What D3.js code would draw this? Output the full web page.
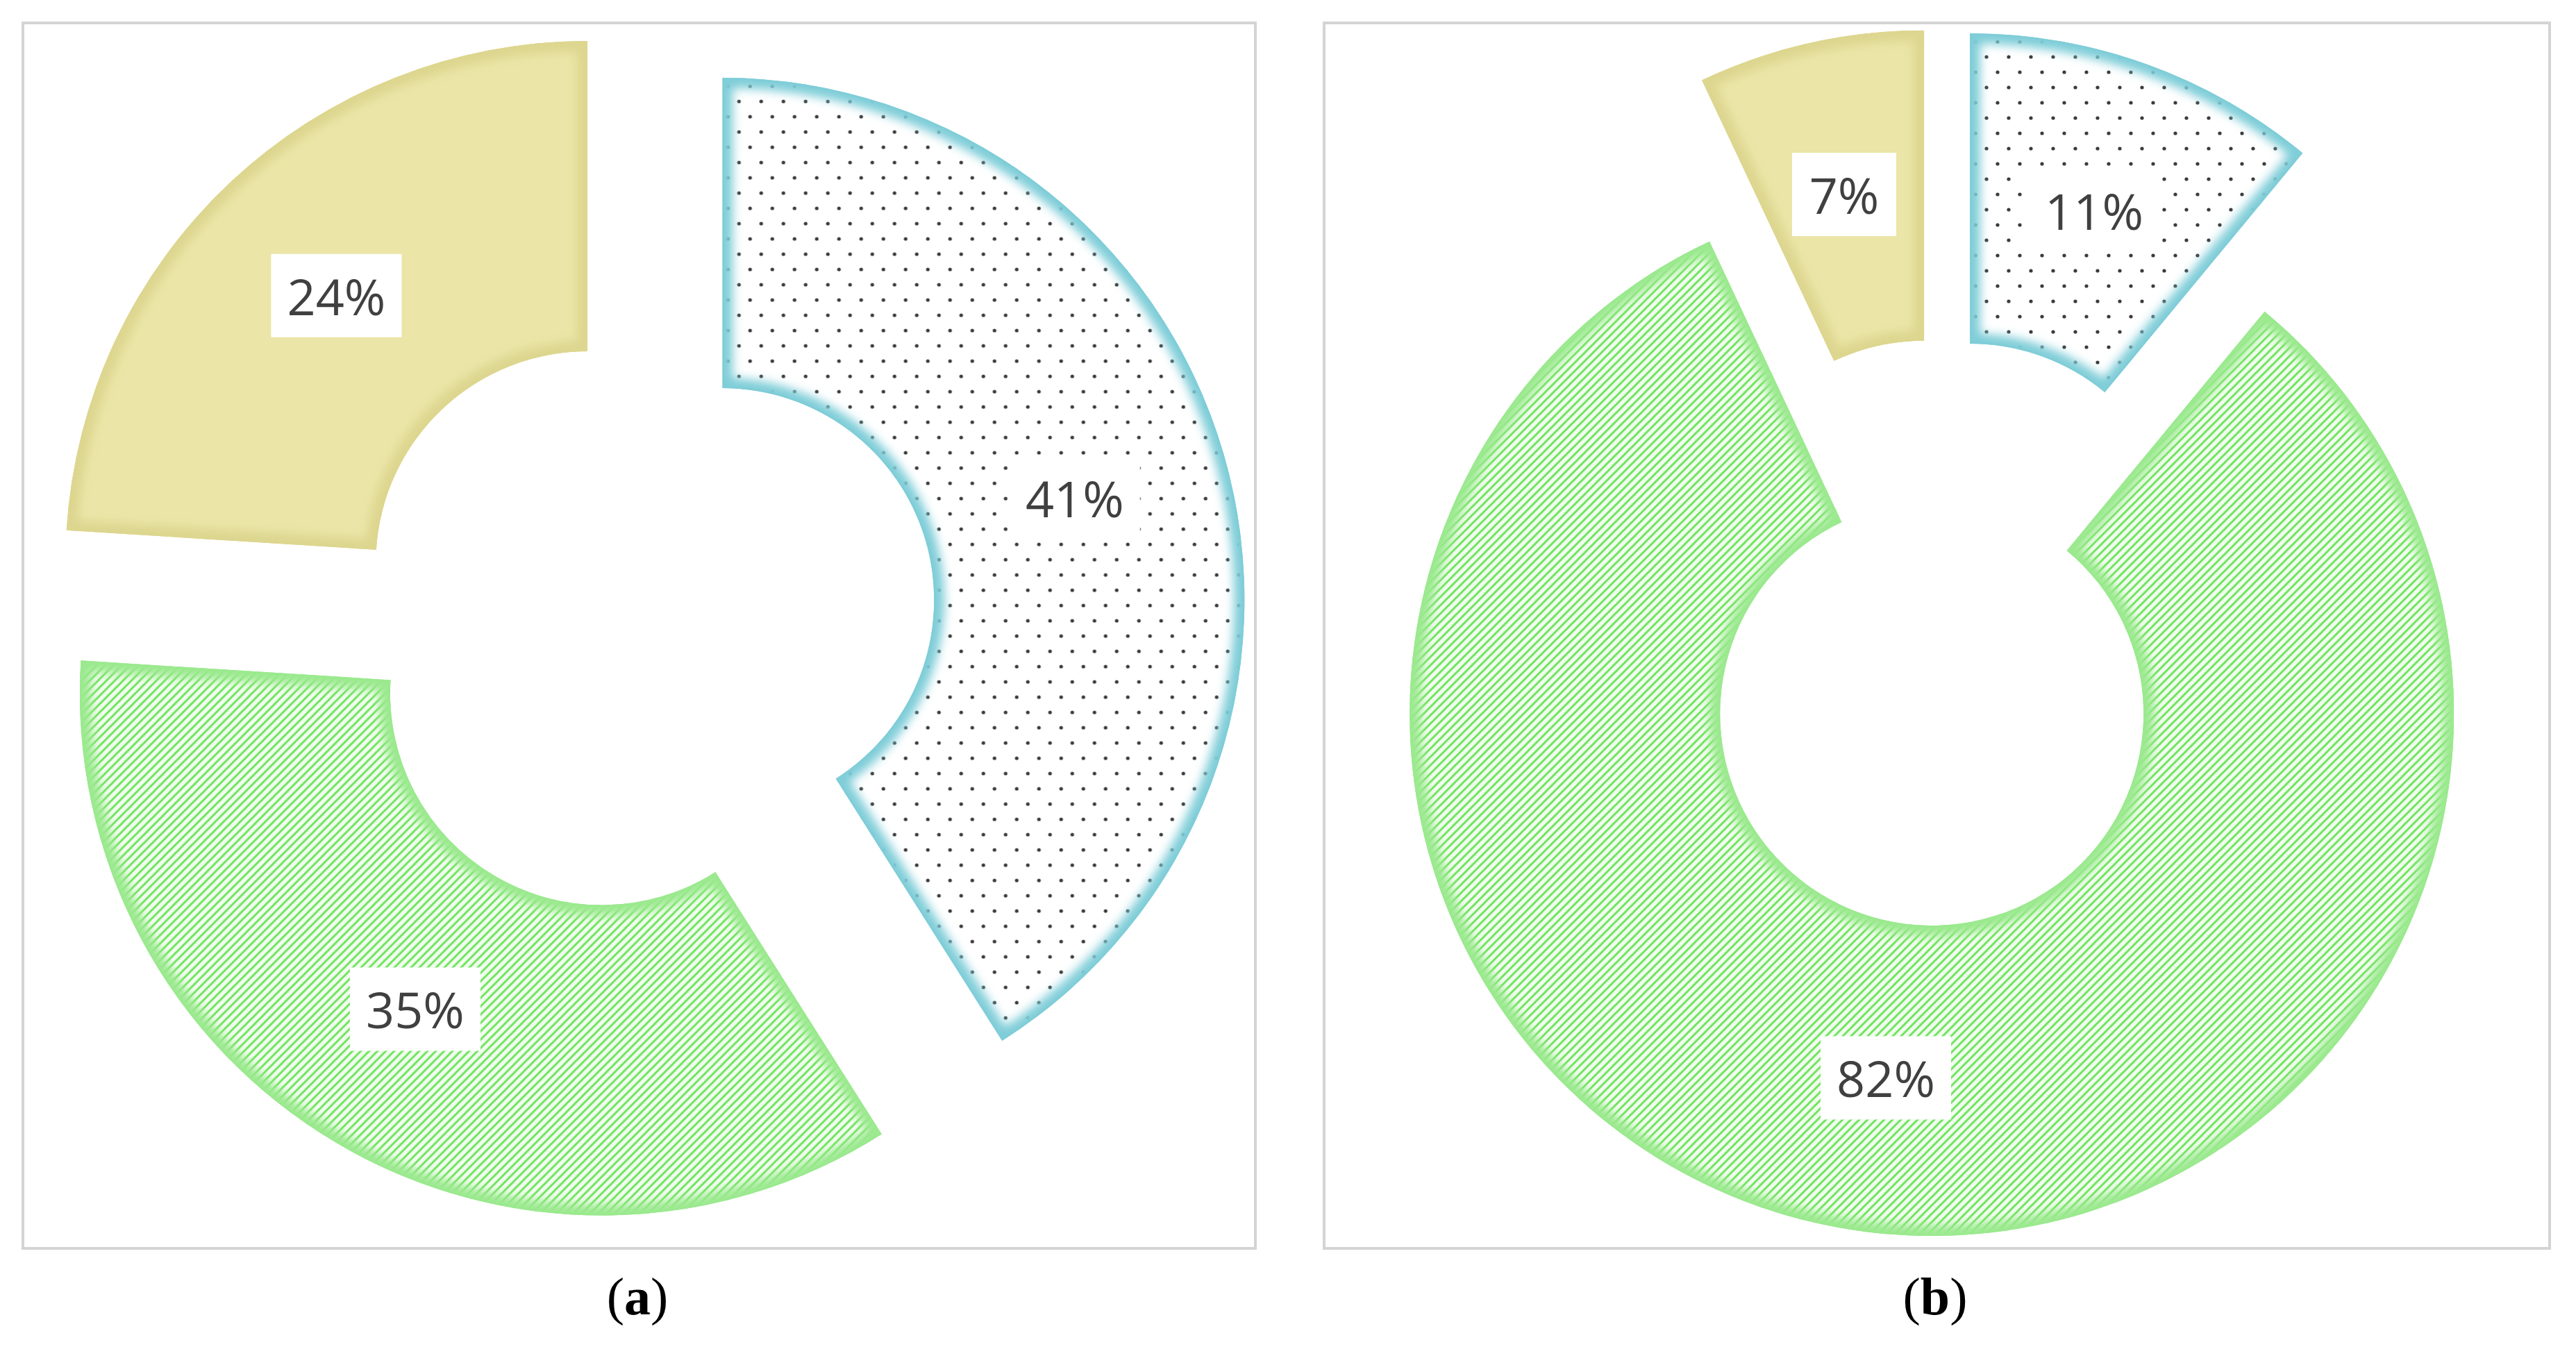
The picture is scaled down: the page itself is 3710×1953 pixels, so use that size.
<!DOCTYPE html>
<html>
<head>
<meta charset="utf-8">
<script src="https://cdn.jsdelivr.net/npm/d3@7"></script>
<style>
  body { margin: 0; background: #fff; }
</style>
</head>
<body>
<svg id="chart" width="3710" height="1953"></svg>
<script>
const categories = ["blue", "green", "yellow"];
const valuesA = [41, 35, 24];
const valuesB = [11, 82, 7];
const labelsA = ["41%", "35%", "24%"];
const labelsB = ["11%", "82%", "7%"];
const captions = ["a", "b"];

const svg = d3.select("#chart");
const defs = svg.append("defs");

// dot pattern for blue slice
const dots = defs.append("pattern").attr("id", "dots")
    .attr("patternUnits", "userSpaceOnUse").attr("width", 32).attr("height", 44);
dots.append("rect").attr("width", 32).attr("height", 44).attr("fill", "#fff");
dots.append("circle").attr("cx", 8).attr("cy", 8).attr("r", 2.6).attr("fill", "#3a3a3a");
dots.append("circle").attr("cx", 24).attr("cy", 30).attr("r", 2.6).attr("fill", "#3a3a3a");

// diagonal hatch for green slice
const hatch = defs.append("pattern").attr("id", "hatch")
    .attr("patternUnits", "userSpaceOnUse").attr("width", 12).attr("height", 12);
hatch.append("rect").attr("width", 12).attr("height", 12).attr("fill", "#f1fcee");
hatch.append("path").attr("d", "M-3,3 L3,-3 M0,12 L12,0 M9,15 L15,9")
    .attr("stroke", "#6ee35c").attr("stroke-width", 3);

const blur = defs.append("filter").attr("id", "soft")
    .attr("x", "-20%").attr("y", "-20%").attr("width", "140%").attr("height", "140%");
blur.append("feGaussianBlur").attr("stdDeviation", 7);

const fills = { blue: "url(#dots)", green: "url(#hatch)", yellow: "#ebe5a7" };
const edges = { blue: "#7fcdd8", green: "#9be98f", yellow: "#ddd68f" };

const panels = [
  { values: valuesA, labels: labelsA, cx: 927, cy: 897, box: [33, 33, 1775, 1765], cap: 918 },
  { values: valuesB, labels: labelsB, cx: 2797, cy: 911, box: [1907, 33, 1765, 1765], cap: 2787 }
];

const outerR = 752, innerR = 305, explode = 118;

const pie = d3.pie().sort(null).value(d => d.v);
const arc = d3.arc().innerRadius(innerR).outerRadius(outerR);

panels.forEach((p, pi) => {
  svg.append("rect")
      .attr("x", p.box[0]).attr("y", p.box[1])
      .attr("width", p.box[2]).attr("height", p.box[3])
      .attr("fill", "none").attr("stroke", "#d4d4d4").attr("stroke-width", 4);

  const data = categories.map((c, i) => ({ c, v: p.values[i], label: p.labels[i] }));
  const arcs = pie(data);
  const g = svg.append("g").attr("transform", `translate(${p.cx},${p.cy})`);

  arcs.forEach((a, i) => {
    const mid = (a.startAngle + a.endAngle) / 2;
    const dx = Math.sin(mid) * explode, dy = -Math.cos(mid) * explode;
    const sg = g.append("g").attr("transform", `translate(${dx},${dy})`);
    const id = `clip${pi}_${i}`;
    defs.append("clipPath").attr("id", id).append("path").attr("d", arc(a));
    const inner = sg.append("g").attr("clip-path", `url(#${id})`);
    inner.append("path").attr("d", arc(a)).attr("fill", fills[a.data.c]);
    inner.append("path").attr("d", arc(a)).attr("fill", "none")
        .attr("stroke", edges[a.data.c]).attr("stroke-width", 30)
        .attr("filter", "url(#soft)");
    inner.append("path").attr("d", arc(a)).attr("fill", "none")
        .attr("stroke", edges[a.data.c]).attr("stroke-width", 5);

    const [lx, ly] = arc.centroid(a);
    const w = a.data.label.length > 2 ? 188 : 150;
    sg.append("rect").attr("x", lx - w / 2).attr("y", ly - 60)
        .attr("width", w).attr("height", 120).attr("fill", "#fff");
    sg.append("text").attr("x", lx).attr("y", ly)
        .attr("text-anchor", "middle").attr("dominant-baseline", "central")
        .attr("font-family", "'Open Sans', 'DejaVu Sans', sans-serif")
        .attr("font-size", 72).attr("fill", "#404040")
        .text(a.data.label);
  });

  const cap = svg.append("text").attr("x", p.cap).attr("y", 1893)
      .attr("text-anchor", "middle")
      .attr("font-family", "'Liberation Serif', 'DejaVu Serif', serif")
      .attr("font-size", 76).attr("fill", "#000");
  cap.append("tspan").text("(");
  cap.append("tspan").attr("font-weight", "bold").text(captions[pi]);
  cap.append("tspan").text(")");
});
</script>
</body>
</html>
